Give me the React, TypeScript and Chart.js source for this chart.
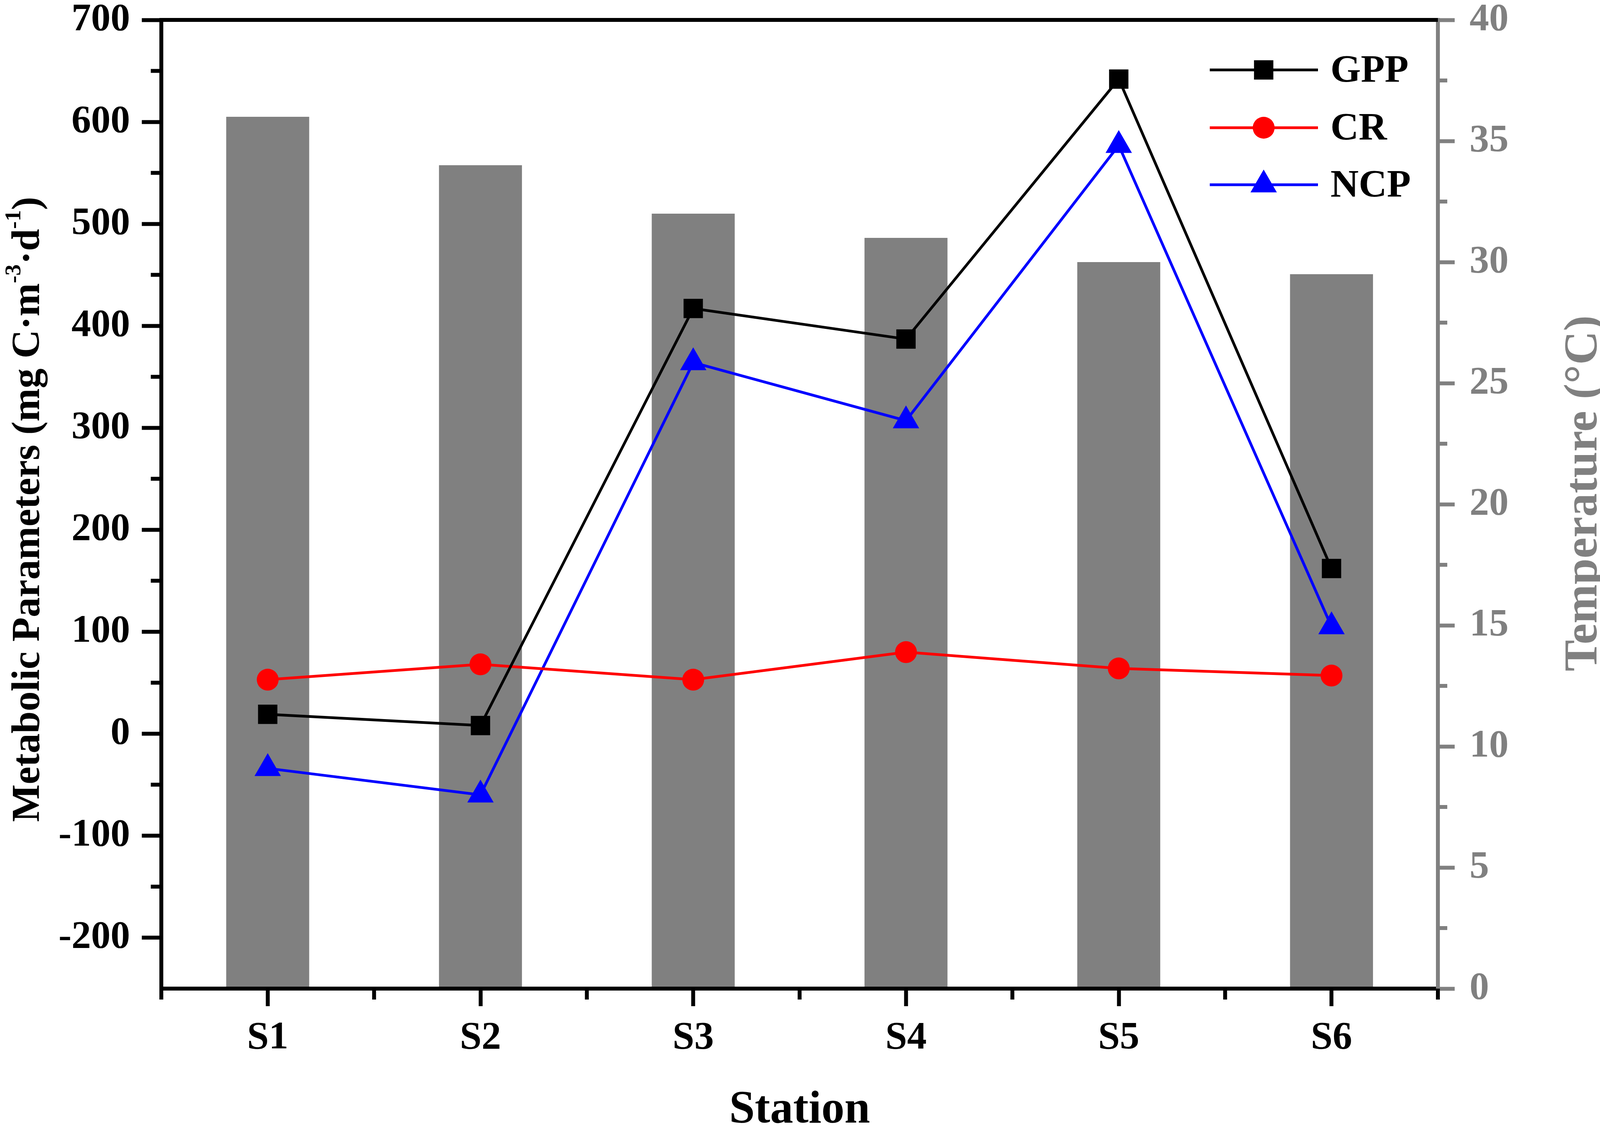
import React, { useEffect, useRef } from "react";
import { Chart, registerables, Plugin } from "chart.js";

Chart.register(...registerables);

const stations = ["S1", "S2", "S3", "S4", "S5", "S6"];
const gpp = [19, 8, 417, 387, 642, 162];
const cr = [53, 68, 53, 80, 64, 57];
const ncp = [-34, -60, 364, 307, 577, 105];
const temperature = [36, 34, 32, 31, 30, 29.5];
const metabolicTicks = [-200, -100, 0, 100, 200, 300, 400, 500, 600, 700];
const metabolicMinor = [-150, -50, 50, 150, 250, 350, 450, 550, 650];
const temperatureMinor = [2.5, 7.5, 12.5, 17.5, 22.5, 27.5, 32.5, 37.5];

const SERIF = "'Liberation Serif', 'Times New Roman', serif";
const GREY = "#808080";

function drawMarker(ctx: CanvasRenderingContext2D, style: string, x: number, y: number, r: number) {
  ctx.beginPath();
  if (style === "rect") {
    const h = r * Math.SQRT1_2;
    ctx.rect(x - h, y - h, 2 * h, 2 * h);
  } else if (style === "triangle") {
    let rad = 0;
    ctx.moveTo(x + Math.sin(rad) * r, y - Math.cos(rad) * r);
    rad += (2 * Math.PI) / 3;
    ctx.lineTo(x + Math.sin(rad) * r, y - Math.cos(rad) * r);
    rad += (2 * Math.PI) / 3;
    ctx.lineTo(x + Math.sin(rad) * r, y - Math.cos(rad) * r);
    ctx.closePath();
  } else {
    ctx.arc(x, y, r, 0, Math.PI * 2);
  }
  ctx.fill();
}

// minor ticks, top frame line, axis titles and the legend
const decorations: Plugin<"bar"> = {
  id: "decorations",
  afterDraw(chart) {
    const { ctx, chartArea, scales } = chart;
    const x = scales.x;
    const yM = scales.y;
    const yT = scales.yT;
    ctx.save();

    // top frame
    ctx.strokeStyle = "#000";
    ctx.lineWidth = 10;
    ctx.beginPath();
    ctx.moveTo(chartArea.left, chartArea.top);
    ctx.lineTo(chartArea.right, chartArea.top);
    ctx.stroke();

    // minor ticks
    ctx.lineWidth = 10;
    ctx.strokeStyle = "#000";
    metabolicMinor.forEach((v) => {
      const py = yM.getPixelForValue(v);
      ctx.beginPath();
      ctx.moveTo(chartArea.left, py);
      ctx.lineTo(chartArea.left - 27, py);
      ctx.stroke();
    });
    for (let i = 0; i <= stations.length; i++) {
      const px = x.getPixelForValue(i - 0.5);
      ctx.beginPath();
      ctx.moveTo(px, chartArea.bottom);
      ctx.lineTo(px, chartArea.bottom + 28);
      ctx.stroke();
    }
    ctx.strokeStyle = GREY;
    temperatureMinor.forEach((v) => {
      const py = yT.getPixelForValue(v);
      ctx.beginPath();
      ctx.moveTo(chartArea.right, py);
      ctx.lineTo(chartArea.right + 24, py);
      ctx.stroke();
    });

    // left title with superscripts
    const parts: [string, boolean][] = [
      ["Metabolic Parameters (mg C\u00b7m", false],
      ["-3", true],
      ["\u00b7d", false],
      ["-1", true],
      [")", false],
    ];
    const mainFont = `bold 102px ${SERIF}`;
    const supFont = `bold 58px ${SERIF}`;
    let total = 0;
    parts.forEach(([t, sup]) => {
      ctx.font = sup ? supFont : mainFont;
      total += ctx.measureText(t).width;
    });
    ctx.save();
    ctx.translate(100, 1304);
    ctx.rotate(-Math.PI / 2);
    ctx.fillStyle = "#000";
    ctx.textBaseline = "alphabetic";
    ctx.textAlign = "left";
    let cx = -total / 2;
    parts.forEach(([t, sup]) => {
      ctx.font = sup ? supFont : mainFont;
      ctx.fillText(t, cx, sup ? -48 : 0);
      cx += ctx.measureText(t).width;
    });
    ctx.restore();

    // right title
    ctx.save();
    ctx.translate(4087, 1263);
    ctx.rotate(-Math.PI / 2);
    ctx.font = `bold 120px ${SERIF}`;
    ctx.fillStyle = GREY;
    ctx.textAlign = "center";
    ctx.textBaseline = "alphabetic";
    ctx.fillText("Temperature (\u00b0C)", 0, 0);
    ctx.restore();

    // x title
    ctx.font = `bold 118px ${SERIF}`;
    ctx.fillStyle = "#000";
    ctx.textAlign = "center";
    ctx.textBaseline = "alphabetic";
    ctx.fillText("Station", (chartArea.left + chartArea.right) / 2, 2874);

    // legend
    const rows = [179, 327, 473];
    let row = 0;
    chart.data.datasets.forEach((ds: any) => {
      if (ds.type !== "line") return;
      const ly = rows[row++];
      ctx.strokeStyle = ds.borderColor;
      ctx.lineWidth = ds.borderWidth;
      ctx.beginPath();
      ctx.moveTo(3097, ly);
      ctx.lineTo(3374, ly);
      ctx.stroke();
      ctx.fillStyle = ds.pointBackgroundColor;
      drawMarker(ctx, ds.pointStyle, 3235, ly, ds.pointRadius);
      ctx.fillStyle = "#000";
      ctx.font = `bold 100px ${SERIF}`;
      ctx.textAlign = "left";
      ctx.textBaseline = "middle";
      ctx.fillText(ds.label, 3406, ly + 4);
    });

    ctx.restore();
  },
};

function lineSet(label: string, data: number[], color: string, style: string, radius: number, order: number) {
  return {
    type: "line" as const,
    label,
    data,
    yAxisID: "y",
    borderColor: color,
    backgroundColor: color,
    borderWidth: 7,
    pointStyle: style,
    pointRadius: radius,
    pointHoverRadius: radius,
    pointBackgroundColor: color,
    pointBorderColor: color,
    pointBorderWidth: 0,
    tension: 0,
    fill: false,
    order,
  };
}

export default function App() {
  const canvasRef = useRef<HTMLCanvasElement | null>(null);

  useEffect(() => {
    document.body.style.margin = "0";
    document.body.style.overflow = "hidden";
    const ctx = canvasRef.current?.getContext("2d");
    if (!ctx) return;

    const tickFont = { family: SERIF, size: 100, weight: "bold" as const };

    const chart = new Chart(ctx, {
      type: "bar",
      data: {
        labels: stations,
        datasets: [
          lineSet("GPP", gpp, "#000000", "rect", 35, 1),
          lineSet("CR", cr, "#ff0000", "circle", 28, 2),
          lineSet("NCP", ncp, "#0000ff", "triangle", 39, 3),
          {
            type: "bar" as const,
            label: "Temperature",
            data: temperature,
            yAxisID: "yT",
            backgroundColor: GREY,
            borderWidth: 0,
            barPercentage: 0.39,
            categoryPercentage: 1,
            order: 10,
          },
        ] as any,
      },
      options: {
        animation: false,
        responsive: true,
        maintainAspectRatio: false,
        devicePixelRatio: 1,
        layout: { padding: { top: 51, left: 0, right: 0, bottom: 0 } },
        plugins: {
          legend: { display: false },
          tooltip: { enabled: false },
          title: { display: false },
        },
        scales: {
          x: {
            type: "category",
            offset: true,
            grid: {
              display: true,
              drawOnChartArea: false,
              drawTicks: true,
              offset: false,
              tickLength: 45,
              tickWidth: 10,
              tickColor: "#000",
            },
            border: { display: true, width: 10, color: "#000", z: 1 },
            ticks: { font: tickFont, color: "#000", padding: 22, maxRotation: 0 },
            afterFit: (scale: any) => {
              scale.height = 362;
              scale.paddingLeft = 0;
              scale.paddingRight = 0;
            },
          },
          y: {
            type: "linear",
            position: "left",
            min: -250,
            max: 700,
            grid: {
              display: true,
              drawOnChartArea: false,
              drawTicks: true,
              tickLength: 50,
              tickWidth: 10,
              tickColor: "#000",
            },
            border: { display: true, width: 10, color: "#000", z: 1 },
            ticks: { font: tickFont, color: "#000", padding: 30 },
            afterBuildTicks: (scale: any) => {
              scale.ticks = metabolicTicks.map((v) => ({ value: v }));
            },
            afterFit: (scale: any) => {
              scale.width = 413;
              scale.paddingTop = 0;
              scale.paddingBottom = 0;
            },
          },
          yT: {
            type: "linear",
            position: "right",
            min: 0,
            max: 40,
            grid: {
              display: true,
              drawOnChartArea: false,
              drawTicks: true,
              tickLength: 43,
              tickWidth: 10,
              tickColor: GREY,
            },
            border: { display: true, width: 10, color: GREY, z: 1 },
            ticks: { font: tickFont, color: GREY, padding: 38, stepSize: 5 },
            afterFit: (scale: any) => {
              scale.width = 446;
              scale.paddingTop = 0;
              scale.paddingBottom = 0;
            },
          },
        },
      } as any,
      plugins: [decorations],
    });

    return () => {
      chart.destroy();
    };
  }, []);

  return (
    <div style={{ width: "4127px", height: "2893px", position: "relative", background: "#fff" }}>
      <canvas ref={canvasRef} />
    </div>
  );
}
